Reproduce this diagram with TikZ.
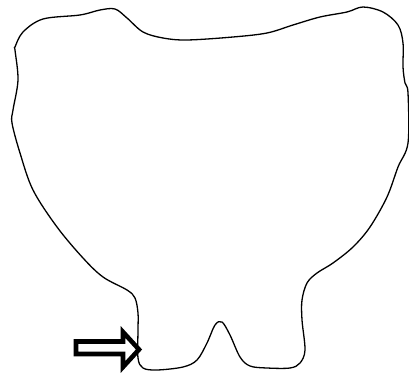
\documentclass[tikz,border=0pt]{standalone}
\usepackage{tikz}

\begin{document}
\begin{tikzpicture}[
  x=1pt, y=-1pt,
  o/.style={line width=1.3pt, line join=round, line cap=round},
  a/.style={line width=4.6pt, line join=miter, fill=white}
]
\useasboundingbox (0,0) rectangle (409,374);

% tooth outline, crown on top, two roots below
\draw[o] plot[smooth cycle, tension=0.55] coordinates {
  (15,47) (23,32) (43,19) (80,15) (100,10) (115,9) (127,18) (143,32)
  (163,38) (187,40) (233,37) (267,33) (293,25) (320,17) (347,12) (363,7)
  (383,12) (398,25) (403,43) (403,67) (405,83) (408,93) (408,143)
  (398,167) (387,197) (370,227) (353,247) (333,263) (317,273) (307,283)
  (302,300) (302,320) (305,350) (300,363) (290,368) (267,368) (250,366)
  (240,357) (230,335) (222,322) (215,325) (207,343) (197,360) (183,367)
  (157,370) (143,368) (138,358) (138,330) (138,313) (135,298) (127,290)
  (103,277) (83,258) (57,227) (33,190) (20,153) (12,123) (13,110)
  (18,80) (15,50)};

% pointer to the left root
\draw[a] (76,341.5) -- (123,341.5) -- (123,332) -- (139,349.5) -- (123,367)
  -- (123,354) -- (76,354) -- cycle;
\end{tikzpicture}
\end{document}
